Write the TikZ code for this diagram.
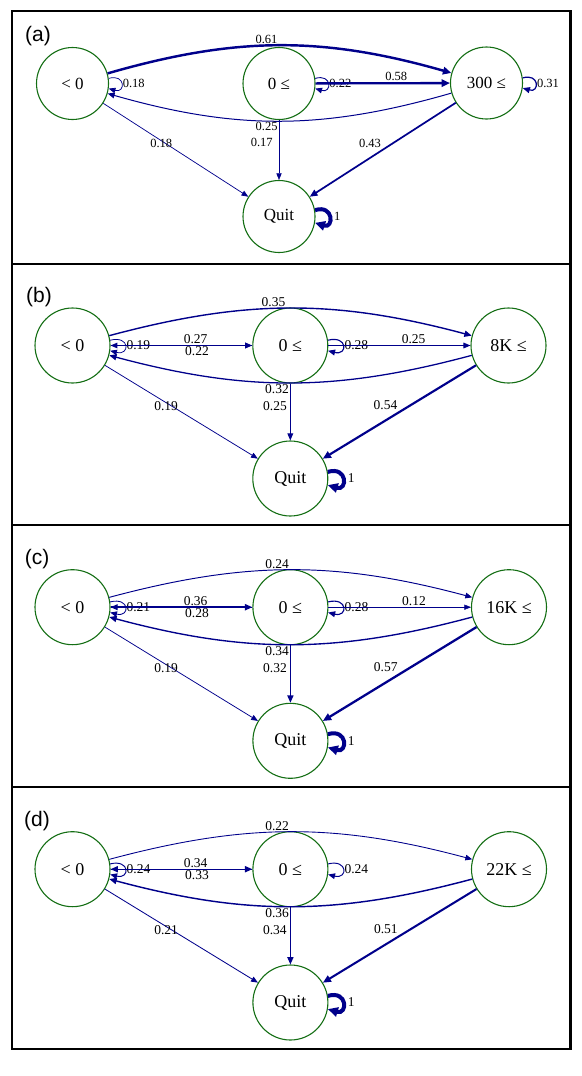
\documentclass[tikz,border=0pt]{standalone}
\usepackage{fontspec}
\setmainfont{Liberation Serif}
\newfontfamily\panelfont{Liberation Sans}
\usetikzlibrary{arrows.meta}
\definecolor{stategreen}{RGB}{20,110,20}
\definecolor{edgeblue}{RGB}{0,0,139}
\tikzset{bucket/.style={draw=stategreen, circle, line width=1.1pt, minimum size=75pt, inner sep=0pt, font=\fontsize{18}{18}\selectfont}}
\tikzset{bucketA/.style={bucket, minimum size=72pt, font=\fontsize{17}{17}\selectfont}}
\tikzset{trans/.style={draw=edgeblue, line width=#1*4pt, -{Triangle[length=6pt 1, width=4.5pt 1.2]}}}
\tikzset{lbl/.style={inner sep=1pt, font=\fontsize{13.5}{13.5}\selectfont}}
\tikzset{lblA/.style={inner sep=1pt, font=\fontsize{12.5}{12.5}\selectfont}}
\tikzset{frame/.style={draw=black, line width=2.2pt}}
\tikzset{panellabel/.style={inner sep=0pt, font=\panelfont\fontsize{21}{21}\selectfont}}

\begin{document}
\begin{tikzpicture}[x=1pt, y=1pt]
\useasboundingbox (0,0) rectangle (581,-1076);

% (a)
\draw[frame] (12.3,-11) rectangle (570.5,-264);
\node[panellabel] (tagA) at (38,-36) {(a)};

\node[bucketA] (negA) at (72.5,-83.5) {< 0};
\node[bucketA] (zeroA) at (279,-83.5) {0 ≤};
\node[bucketA] (highA) at (486.5,-83) {300 ≤};
\node[bucketA] (quitA) at (279,-216.5) {Quit};

\draw[trans=0.61] (negA) to[bend left=16] node[lblA, pos=0.46, above] {0.61} (highA);
\draw[trans=0.25] (highA) to[bend left=16] node[lblA, pos=0.54, below] {0.25} (negA);
\draw[trans=0.18] (negA.8) .. controls +(17,5) and +(17,-5) .. (negA.-8) node[lblA, midway, right] {0.18};
\draw[trans=0.22] (zeroA.8) .. controls +(17,5) and +(17,-5) .. (zeroA.-8) node[lblA, midway, right] {0.22};
\draw[trans=0.31] (highA.8) .. controls +(17,5) and +(17,-5) .. (highA.-8) node[lblA, midway, right] {0.31};
\draw[trans=0.58] (zeroA) -- node[lblA, pos=0.6, above] {0.58} (highA);
\draw[trans=0.18] (negA) -- node[lblA, pos=0.4, yshift=-3pt] {0.18} (quitA);
\draw[trans=0.17] (zeroA) -- node[lblA, pos=0.38, left=5pt] {0.17} (quitA);
\draw[trans=0.43] (highA) -- node[lblA, pos=0.5, above left] {0.43} (quitA);
\draw[trans=1] (quitA.10) .. controls +(19,6) and +(19,-6) .. (quitA.-10) node[lblA, midway, right=2pt] {1};

% (b)
\draw[frame] (12.3,-264) rectangle (570.5,-525);
\node[panellabel] (tagB) at (39,-297) {(b)};

\node[bucket] (negB) at (72.5,-345.5) {< 0};
\node[bucket] (zeroB) at (290.3,-345.5) {0 ≤};
\node[bucket] (highB) at (508.5,-345.5) {8K ≤};
\node[bucket] (quitB) at (290.3,-478.5) {Quit};

\draw[trans=0.35] (negB) to[bend left=15] node[lbl, pos=0.45, above] {0.35} (highB);
\draw[trans=0.32] (highB) to[bend left=15] node[lbl, pos=0.54, below] {0.32} (negB);
\draw[trans=0.19] (negB.8) .. controls +(20,5) and +(20,-5) .. (negB.-8) node[lbl, midway, right] {0.19};
\draw[trans=0.28] (zeroB.8) .. controls +(20,5) and +(20,-5) .. (zeroB.-8) node[lbl, midway, right] {0.28};
\draw[trans=0.27] (negB) -- node[lbl, pos=0.6, above] {0.27} (zeroB);
\draw[trans=0.22] (zeroB) -- node[lbl, pos=0.39, below] {0.22} (negB);
\draw[trans=0.25] (zeroB) -- node[lbl, pos=0.6, above] {0.25} (highB);
\draw[trans=0.19] (negB) -- node[lbl, pos=0.4, yshift=-3.5pt] {0.19} (quitB);
\draw[trans=0.25] (zeroB) -- node[lbl, pos=0.4, left=2pt] {0.25} (quitB);
\draw[trans=0.54] (highB) -- node[lbl, pos=0.5, above left] {0.54} (quitB);
\draw[trans=1] (quitB.10) .. controls +(20,6) and +(20,-6) .. (quitB.-10) node[lbl, midway, right=2pt] {1};

% (c)
\draw[frame] (12.3,-525) rectangle (570.5,-787);
\node[panellabel] (tagC) at (37,-559) {(c)};

\node[bucket] (negC) at (72.5,-607.2) {< 0};
\node[bucket] (zeroC) at (290.4,-607.2) {0 ≤};
\node[bucket] (highC) at (509,-607.2) {16K ≤};
\node[bucket] (quitC) at (290.4,-740.8) {Quit};

\draw[trans=0.24] (negC) to[bend left=15] node[lbl, pos=0.46, above] {0.24} (highC);
\draw[trans=0.34] (highC) to[bend left=15] node[lbl, pos=0.54, below] {0.34} (negC);
\draw[trans=0.21] (negC.8) .. controls +(20,5) and +(20,-5) .. (negC.-8) node[lbl, midway, right] {0.21};
\draw[trans=0.28] (zeroC.8) .. controls +(20,5) and +(20,-5) .. (zeroC.-8) node[lbl, midway, right] {0.28};
\draw[trans=0.36] (negC) -- node[lbl, pos=0.6, above] {0.36} (zeroC);
\draw[trans=0.28] (zeroC) -- node[lbl, pos=0.39, below] {0.28} (negC);
\draw[trans=0.12] (zeroC) -- node[lbl, pos=0.6, above] {0.12} (highC);
\draw[trans=0.19] (negC) -- node[lbl, pos=0.4, yshift=-3.5pt] {0.19} (quitC);
\draw[trans=0.32] (zeroC) -- node[lbl, pos=0.4, left=2pt] {0.32} (quitC);
\draw[trans=0.57] (highC) -- node[lbl, pos=0.5, above left] {0.57} (quitC);
\draw[trans=1] (quitC.10) .. controls +(20,6) and +(20,-6) .. (quitC.-10) node[lbl, midway, right=2pt] {1};

% (d)
\draw[frame] (12.3,-787) rectangle (570.5,-1049);
\node[panellabel] (tagD) at (37,-821) {(d)};

\node[bucket] (negD) at (72.5,-869.2) {< 0};
\node[bucket] (zeroD) at (290.4,-869.2) {0 ≤};
\node[bucket] (highD) at (509,-869.2) {22K ≤};
\node[bucket] (quitD) at (290.4,-1002.5) {Quit};

\draw[trans=0.22] (negD) to[bend left=15] node[lbl, pos=0.46, above] {0.22} (highD);
\draw[trans=0.36] (highD) to[bend left=15] node[lbl, pos=0.54, below] {0.36} (negD);
\draw[trans=0.24] (negD.8) .. controls +(20,5) and +(20,-5) .. (negD.-8) node[lbl, midway, right] {0.24};
\draw[trans=0.24] (zeroD.8) .. controls +(20,5) and +(20,-5) .. (zeroD.-8) node[lbl, midway, right] {0.24};
\draw[trans=0.34] (negD) -- node[lbl, pos=0.6, above] {0.34} (zeroD);
\draw[trans=0.33] (zeroD) -- node[lbl, pos=0.39, below] {0.33} (negD);
\draw[trans=0.21] (negD) -- node[lbl, pos=0.4, yshift=-3.5pt] {0.21} (quitD);
\draw[trans=0.34] (zeroD) -- node[lbl, pos=0.4, left=2pt] {0.34} (quitD);
\draw[trans=0.51] (highD) -- node[lbl, pos=0.5, above left] {0.51} (quitD);
\draw[trans=1] (quitD.10) .. controls +(20,6) and +(20,-6) .. (quitD.-10) node[lbl, midway, right=2pt] {1};

\end{tikzpicture}
\end{document}
